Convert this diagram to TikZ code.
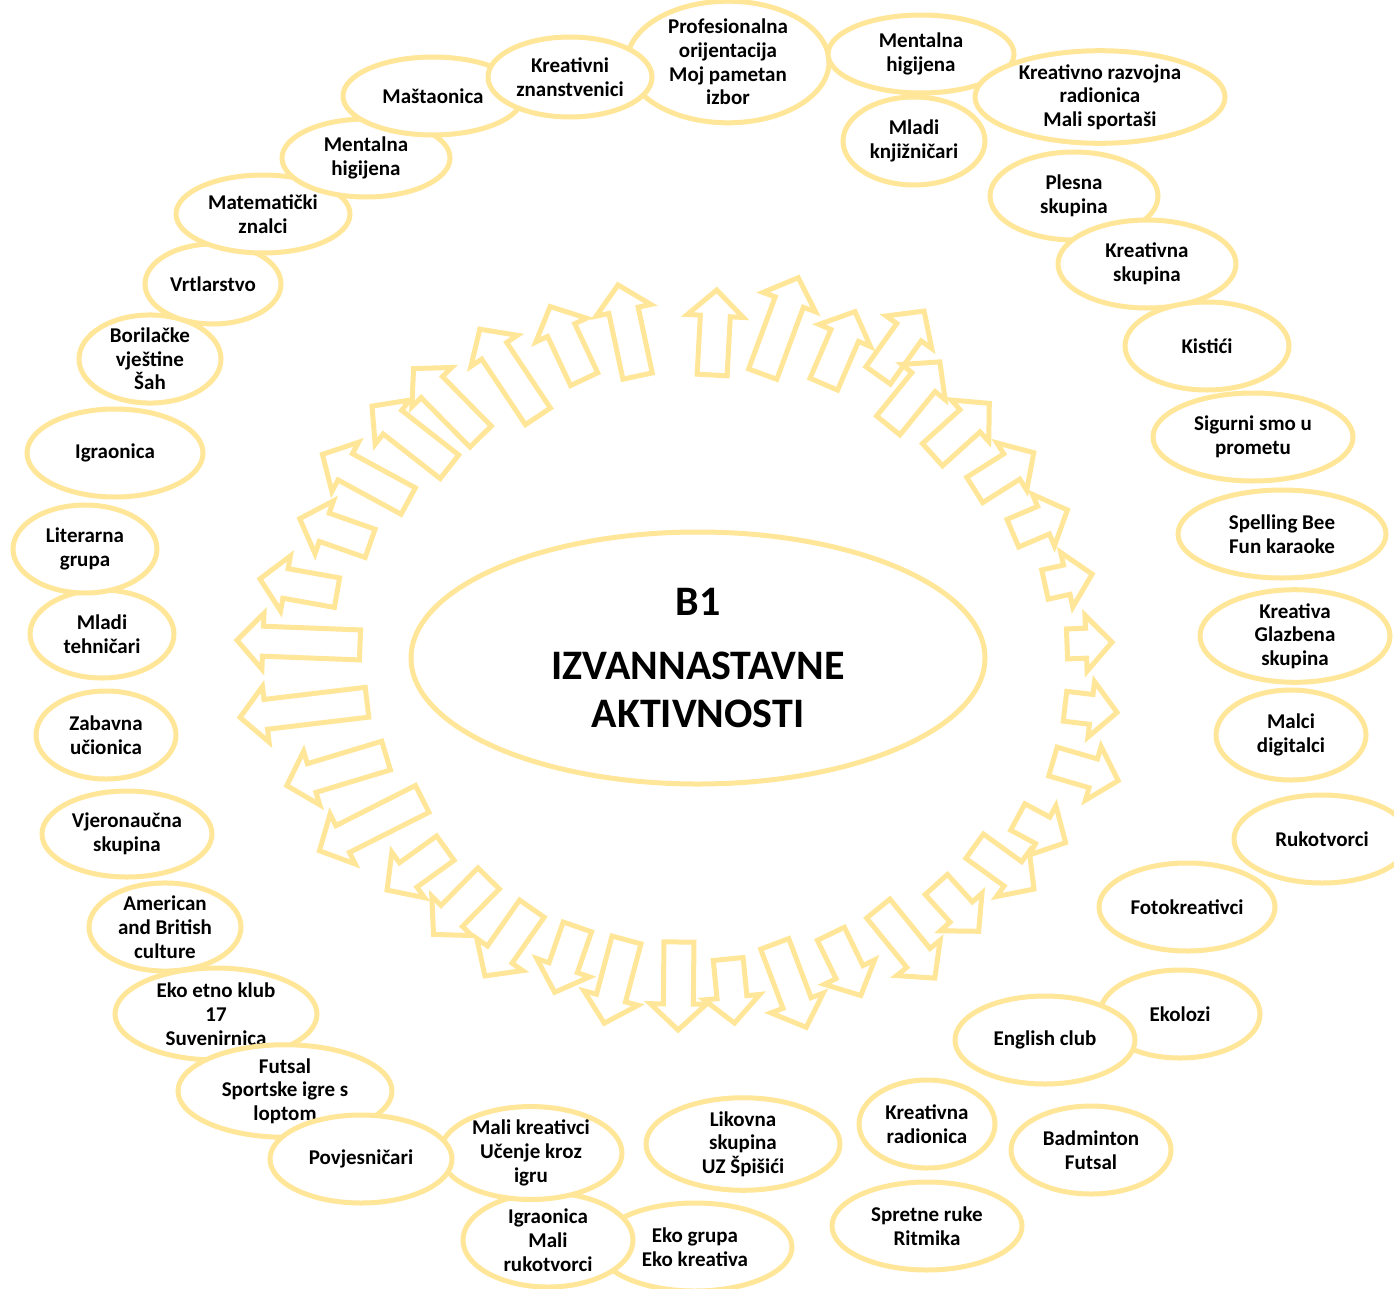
\documentclass[tikz,border=0pt]{standalone}
\usepackage{fontspec}
\setmainfont{Carlito}
\usetikzlibrary{shapes.geometric}
\definecolor{gold}{HTML}{FFE699}
\tikzset{
  bub/.style={ellipse, draw=gold, line width=5pt, fill=white, inner sep=0pt,
    align=center, font=\fontsize{21}{23.7}\selectfont\bfseries},
  blockarrow/.style={draw=gold, line width=5pt, line join=miter, fill=white},
  hub/.style={ellipse, draw=gold, line width=5pt, fill=white, inner sep=0pt,
    align=center, font=\fontsize{42}{48}\selectfont\bfseries},
}
\begin{document}
\begin{tikzpicture}[x=1pt,y=-1pt]
\useasboundingbox (0,0) rectangle (1394,1288);
\clip (0,0) rectangle (1394,1288);

% centre
\node[hub, minimum width=574pt, minimum height=252pt] (hubnode) at (698,658)
  {B1\\[16pt]IZVANNASTAVNE\\AKTIVNOSTI};

% radial block arrows: tail x, tail y, tip x, tip y
\foreach \sx/\sy/\tx/\ty in {
  362/645/232/640, 339/593/255/578, 372/544/295/517, 410/502/318/452,
  451/468/368/403, 482/438/410/365, 539/418/477/325, 585/381/548/302,
  638/378/617/280, 712/377/717/285, 762/376/800/273, 823/386/857/307,
  877/377/927/307, 887/427/943/358, 931/456/993/400, 973/491/1038/450,
  1011/534/1072/508, 1043/585/1097/573, 1065/644/1117/642, 1063/706/1122/713,
  1051/761/1123/782, 1016/816/1070/845, 973/845/1038/892, 935/883/982/935,
  877/907/938/982, 830/932/863/1000, 774/942/808/1032, 728/957/735/1028,
  679/940/678/1035, 627/938/603/1028, 578/925/553/997, 533/907/482/980,
  490/877/430/938, 447/847/383/893, 424/798/315/853, 388/755/282/787,
  369/702/235/718}{
  \pgfmathsetmacro\ang{atan2(\ty-\sy,\tx-\sx)}
  \pgfmathsetmacro\len{veclen(\tx-\sx,\ty-\sy)-5}
  \pgfmathsetmacro\hb{\len-26}
  \begin{scope}[shift={(\sx,\sy)}, rotate=-\ang]
    \draw[blockarrow] (2,-15) -- (\hb,-15) -- (\hb,-28) -- (\len,0)
      -- (\hb,28) -- (\hb,15) -- (2,15) -- cycle;
  \end{scope}
}

% outer bubbles
\node[bub, minimum width=142pt, minimum height=82pt] (bor) at (150,359) {Borilačke\\vještine\\Šah};
\node[bub, minimum width=136pt, minimum height=80pt] (vrt) at (213,284) {Vrtlarstvo};
\node[bub, minimum width=174pt, minimum height=78pt] (mat) at (263,214) {Matematički\\znalci};
\node[bub, minimum width=168pt, minimum height=78pt] (menl) at (366,158) {Mentalna\\higijena};
\node[bub, minimum width=180pt, minimum height=78pt] (mas) at (433,96) {Maštaonica};
\node[bub, minimum width=202pt, minimum height=108pt] (pro) at (728,62) {Profesionalna\\orijentacija\\Moj pametan\\izbor};
\node[bub, minimum width=164pt, minimum height=80pt] (kzn) at (570,77) {Kreativni\\znanstvenici};
\node[bub, minimum width=186pt, minimum height=78pt] (menr) at (921,54) {Mentalna\\higijena};
\node[bub, minimum width=142pt, minimum height=88pt] (mkn) at (914,141) {Mladi\\knjižničari};
\node[bub, minimum width=250pt, minimum height=88pt] (krr) at (1100,97) {Kreativno razvojna\\radionica\\Mali sportaši};
\node[bub, minimum width=168pt, minimum height=88pt] (ple) at (1074,196) {Plesna\\skupina};
\node[bub, minimum width=178pt, minimum height=88pt] (krs) at (1147,264) {Kreativna\\skupina};
\node[bub, minimum width=164pt, minimum height=88pt] (kis) at (1207,346) {Kistići};
\node[bub, minimum width=200pt, minimum height=88pt] (sig) at (1253,437) {Sigurni smo u\\prometu};
\node[bub, minimum width=208pt, minimum height=88pt] (spe) at (1282,534) {Spelling Bee\\Fun karaoke};
\node[bub, minimum width=190pt, minimum height=88pt] (kgs) at (1295,636) {Kreativa\\Glazbena\\skupina};
\node[bub, minimum width=150pt, minimum height=90pt] (mdg) at (1291,735) {Malci\\digitalci};
\node[bub, minimum width=176pt, minimum height=88pt] (ruk) at (1322,839) {Rukotvorci};
\node[bub, minimum width=176pt, minimum height=88pt] (fot) at (1187,907) {Fotokreativci};
\node[bub, minimum width=160pt, minimum height=88pt] (eko) at (1180,1014) {\hspace*{0pt}Ekolozi};
\node[bub, minimum width=180pt, minimum height=88pt] (eng) at (1045,1040) {English club};
\node[bub, minimum width=160pt, minimum height=88pt] (bad) at (1091,1150) {Badminton\\Futsal};
\node[bub, minimum width=136pt, minimum height=88pt] (krad) at (927,1124) {Kreativna\\radionica};
\node[bub, minimum width=190pt, minimum height=88pt] (spr) at (927,1226) {Spretne ruke\\Ritmika};
\node[bub, minimum width=194pt, minimum height=88pt] (lik) at (743,1144) {Likovna\\skupina\\UZ Špišići};
\node[bub, minimum width=194pt, minimum height=88pt] (ekg) at (695,1247) {Eko grupa\\Eko kreativa};
\node[bub, minimum width=170pt, minimum height=94pt] (igm) at (548,1240) {Igraonica\\Mali\\rukotvorci};
\node[bub, minimum width=182pt, minimum height=86pt] (mkr) at (531,1153) {Mali kreativci\\Učenje kroz\\igru};
\node[bub, minimum width=152pt, minimum height=86pt] (ame) at (165,927) {American\\and British\\culture};
\node[bub, minimum width=202pt, minimum height=92pt] (eet) at (216,1014) {Eko etno klub\\17\\Suvenirnica};
\node[bub, minimum width=214pt, minimum height=88pt] (fut) at (285,1091) {Futsal\\Sportske igre s\\loptom};
\node[bub, minimum width=182pt, minimum height=88pt] (pov) at (361,1159) {Povjesničari};
\node[bub, minimum width=170pt, minimum height=86pt] (vje) at (127,834) {Vjeronaučna\\skupina};
\node[bub, minimum width=140pt, minimum height=88pt] (zab) at (106,735) {Zabavna\\učionica};
\node[bub, minimum width=144pt, minimum height=88pt] (mte) at (102,634) {Mladi\\tehničari};
\node[bub, minimum width=144pt, minimum height=88pt] (lit) at (85,549) {Literarna\\grupa};
\node[bub, minimum width=176pt, minimum height=88pt] (igr) at (115,453) {Igraonica};
\end{tikzpicture}
\end{document}
